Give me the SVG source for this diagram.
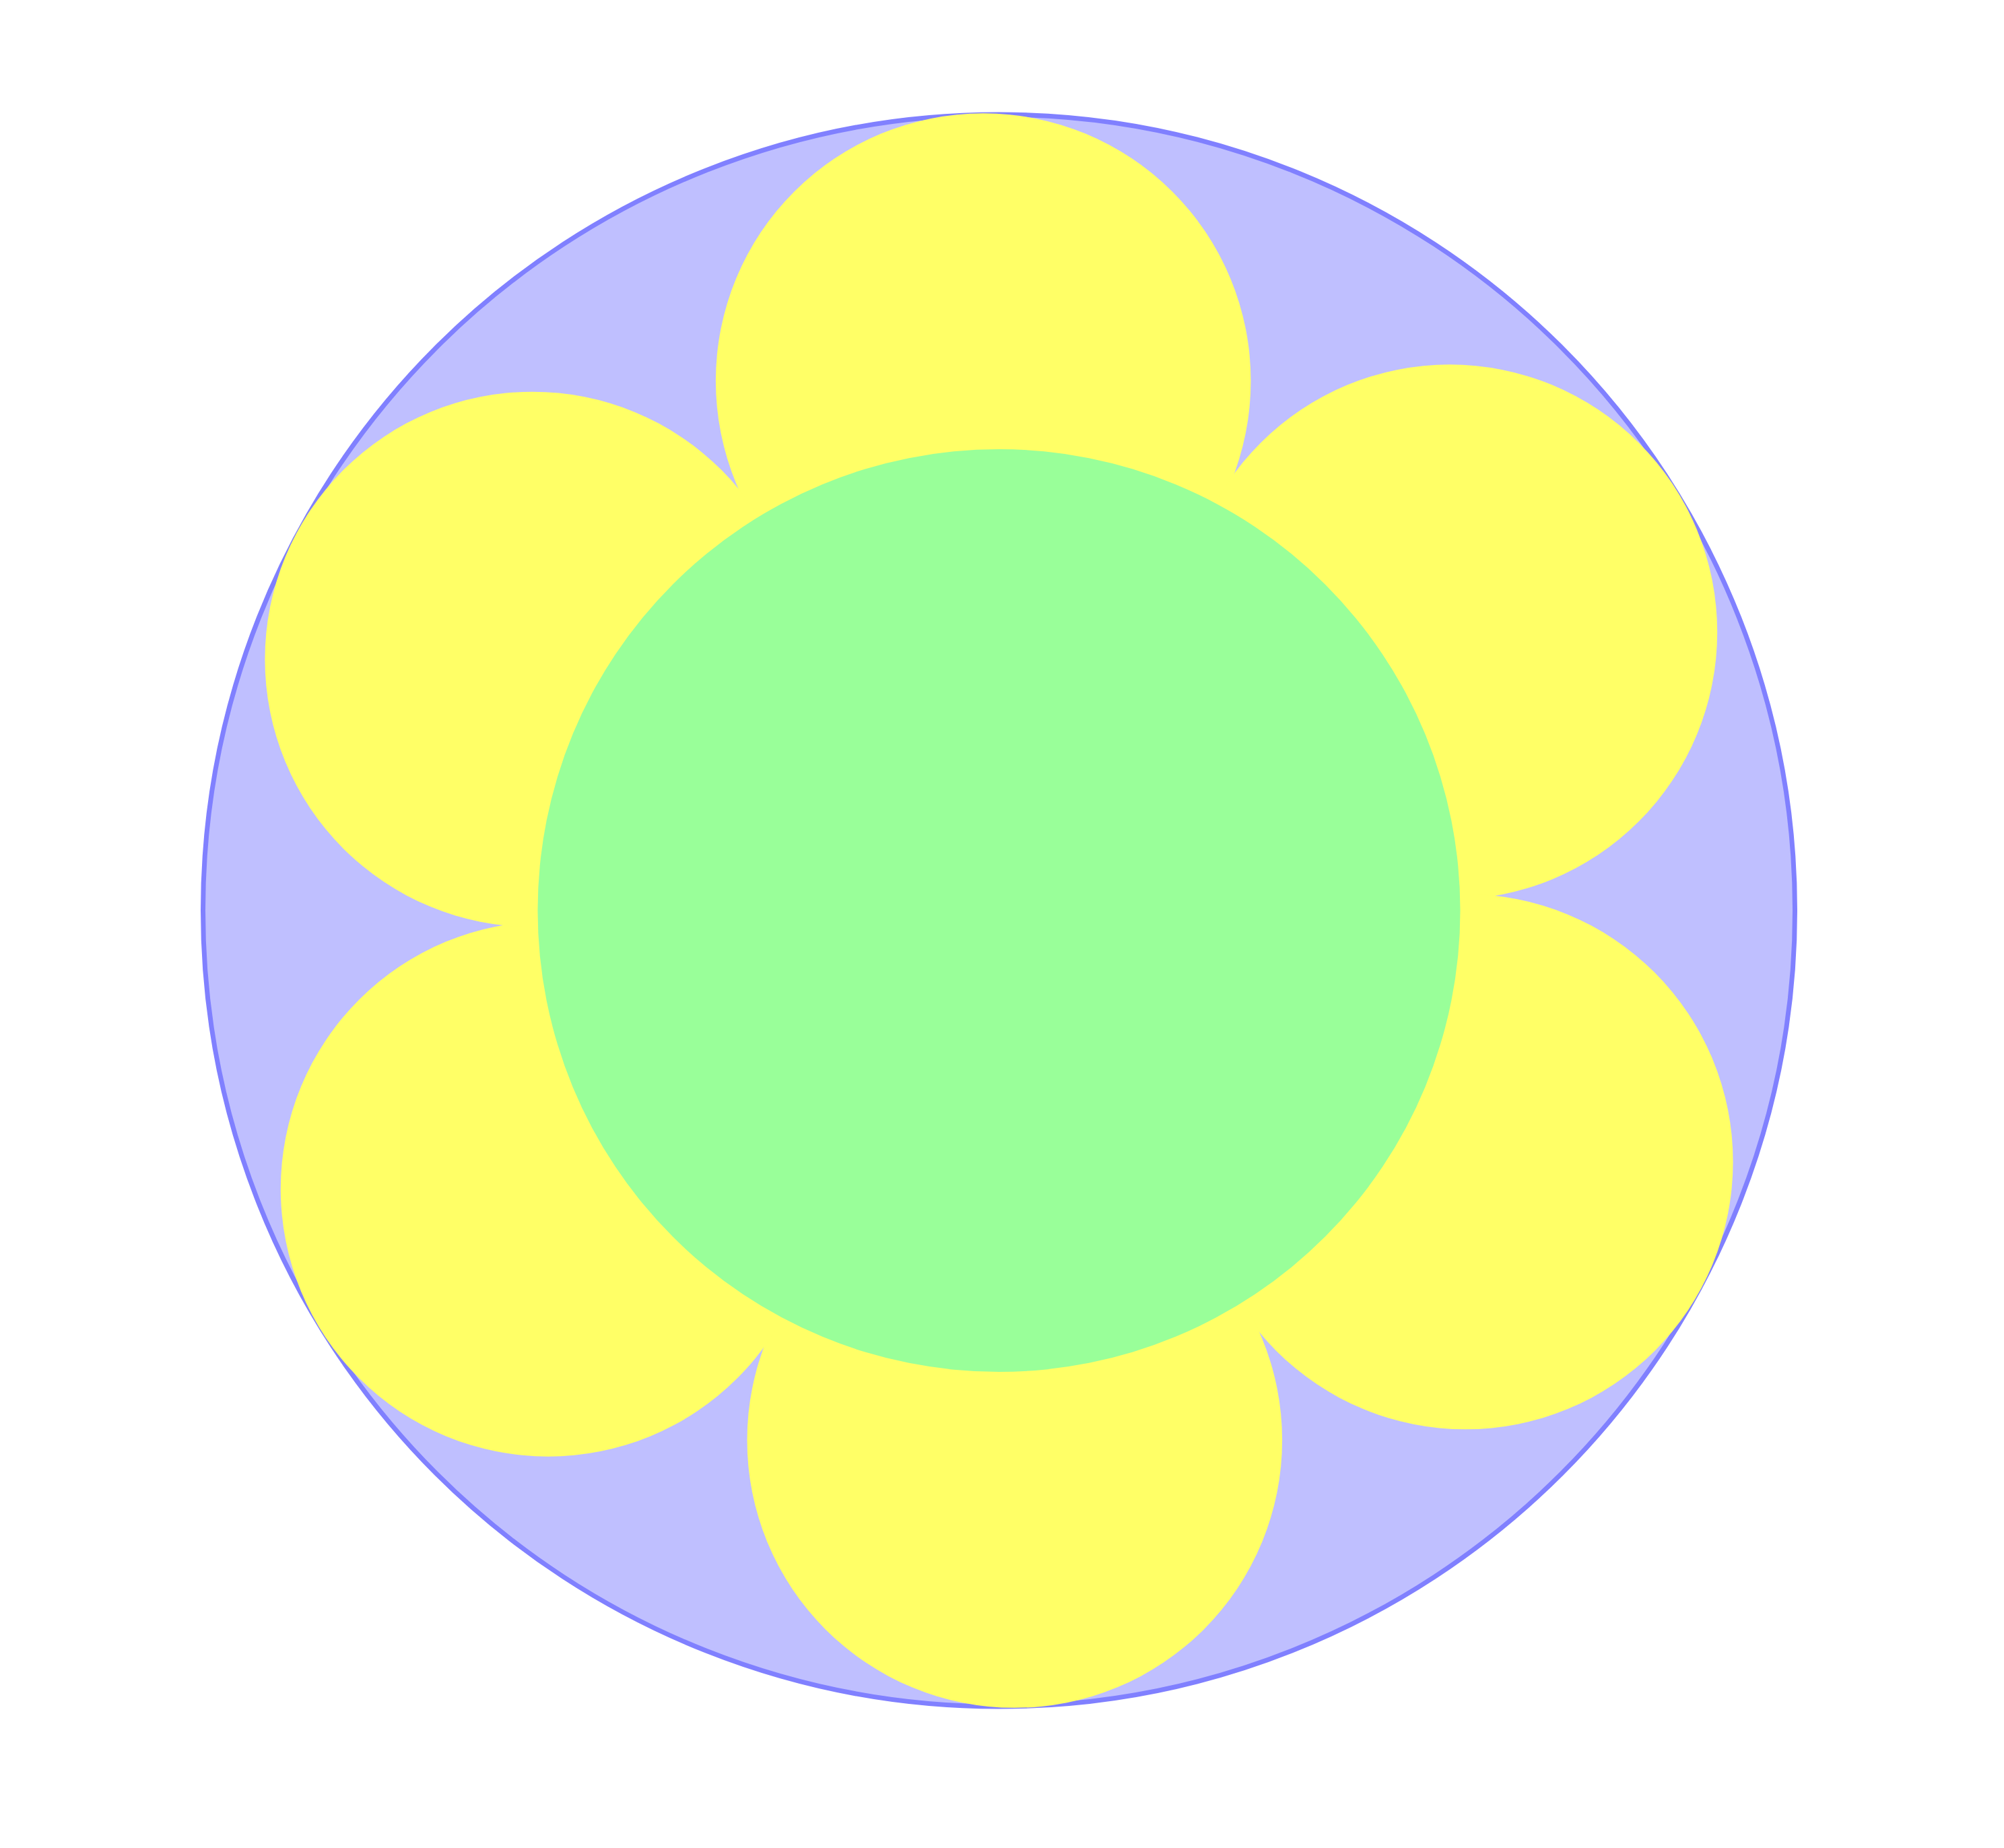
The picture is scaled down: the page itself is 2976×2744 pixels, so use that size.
<svg xmlns="http://www.w3.org/2000/svg" width="2976" height="2744" viewBox="0 0 2976 2744">
<style>
.outer{fill:#bfbfff;stroke:#8080ff;stroke-width:7}
.petal{fill:#ffff66}
.core{fill:#99ff99}
</style>
<rect width="2976" height="2744" fill="#ffffff"/>
<g id="outer"><circle class="outer" cx="1483.5" cy="1352" r="1182"/></g>
<g id="petals">
<g id="petal1"><circle class="petal" cx="1460.2" cy="565.6" r="397.3"/></g>
<g id="petal2"><circle class="petal" cx="2152.9" cy="938.6" r="397.3"/></g>
<g id="petal3"><circle class="petal" cx="2176.3" cy="1725.0" r="397.3"/></g>
<g id="petal4"><circle class="petal" cx="1506.8" cy="2138.5" r="397.3"/></g>
<g id="petal5"><circle class="petal" cx="814.1" cy="1765.4" r="397.3"/></g>
<g id="petal6"><circle class="petal" cx="790.7" cy="979.0" r="397.3"/></g>
</g>
<g id="core"><circle class="core" cx="1483.5" cy="1352" r="685"/></g>
<g id="connectors"></g>
</svg>
